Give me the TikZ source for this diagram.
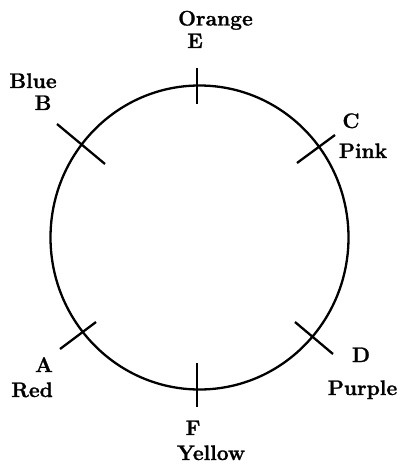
\documentclass[tikz,border=0pt]{standalone}
\usepackage{fontspec}
\setmainfont{Latin Modern Roman}[BoldFeatures={FakeBold=1.2}]
\begin{document}
\begin{tikzpicture}[x=1pt,y=-1pt,
  lbl/.style={font=\fontsize{21}{23}\selectfont\bfseries, inner sep=0pt, anchor=base},
  tick/.style={line width=2.3pt},
  ring/.style={line width=2.3pt}]
\useasboundingbox[fill=white] (0,0) rectangle (401,465);
\coordinate (O) at (199.5,237.5);
\draw[ring] (O) ellipse [x radius=149, y radius=152];
% ticks
\coordinate (E1) at (197,68);  \coordinate (E2) at (197,104);
\coordinate (F1) at (197,363); \coordinate (F2) at (197,407);
\coordinate (B1) at (57,124);  \coordinate (B2) at (105,164);
\coordinate (C1) at (335,135); \coordinate (C2) at (297,163);
\coordinate (A1) at (96,322);  \coordinate (A2) at (60,349);
\coordinate (D1) at (295,322); \coordinate (D2) at (333,354);
\draw[tick] (E1) -- (E2);
\draw[tick] (F1) -- (F2);
\draw[tick] (B1) -- (B2);
\draw[tick] (C1) -- (C2);
\draw[tick] (A1) -- (A2);
\draw[tick] (D1) -- (D2);
% labels
\node[lbl] (orange) at (215.5,25.5) {Orange};
\node[lbl] (e) at (195,48) {E};
\node[lbl] (blue) at (33,88) {Blue};
\node[lbl] (b) at (43,110) {B};
\node[lbl] (c) at (351,128) {C};
\node[lbl] (pink) at (363,158) {Pink};
\node[lbl] (a) at (44,372) {A};
\node[lbl] (red) at (32,397) {Red};
\node[lbl] (d) at (361,362) {D};
\node[lbl] (purple) at (362.5,395) {Purple};
\node[lbl] (f) at (193,435) {F};
\node[lbl] (yellow) at (211,460) {Yellow};
\end{tikzpicture}
\end{document}
